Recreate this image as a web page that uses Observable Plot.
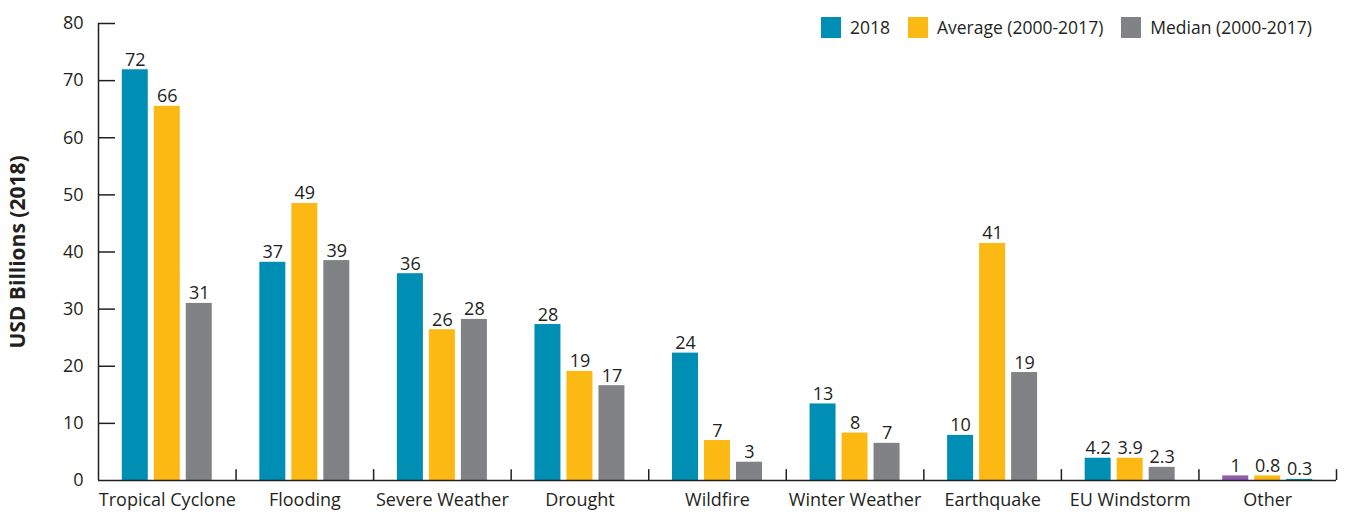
<!DOCTYPE html>
<html><head><meta charset="utf-8">
<script src="https://cdn.jsdelivr.net/npm/d3@7"></script>
<script src="https://cdn.jsdelivr.net/npm/@observablehq/plot@0.6"></script>
<style>
body{margin:0;background:#fff;font-family:"Open Sans",sans-serif;}
#wrap{position:relative;width:1348px;height:514px;}
#legend{position:absolute;top:17px;right:36px;display:flex;align-items:center;font-size:17.5px;color:#231f20;line-height:21px;}
.item{display:flex;align-items:center;margin-left:18px;}
.item:first-child{margin-left:0;}
.sw{width:20px;height:21px;margin-right:9px;}
</style></head><body><div id="wrap"><div id="legend"></div></div>
<script>
const categories = ["Tropical Cyclone","Flooding","Severe Weather","Drought","Wildfire","Winter Weather","Earthquake","EU Windstorm","Other"];
const series = ["2018","Average (2000-2017)","Median (2000-2017)"];
const values2018 = [71.9,38.2,36.2,27.3,22.3,13.4,7.9,3.9,0.8];
const valuesAvg  = [65.5,48.5,26.4,19.1,7.0,8.3,41.5,3.9,0.8];
const valuesMed  = [31.0,38.5,28.2,16.6,3.2,6.5,18.9,2.3,0.2];
const labels2018 = ["72","37","36","28","24","13","10","4.2","1"];
const labelsAvg  = ["66","49","26","19","7","8","41","3.9","0.8"];
const labelsMed  = ["31","39","28","17","3","7","19","2.3","0.3"];
const seriesColors = ["#008fb4","#fdb913","#818285"];
const otherColors  = ["#8e5ca8","#fdb913","#008fb4"];
const yTicks = [0,10,20,30,40,50,60,70,80];

const ink = "#231f20";
const barStep = 0.2326, barHalf = 0.0945, tickLen = 0.1236; // layout, in category units
const seriesValues = [values2018, valuesAvg, valuesMed];
const seriesLabels = [labels2018, labelsAvg, labelsMed];
const rows = [];
categories.forEach((c, ci) => series.forEach((s, si) => {
  const cx = ci + (si - 1) * barStep;
  rows.push({cat: c, series: s, value: seriesValues[si][ci], label: seriesLabels[si][ci],
    x: cx, x1: cx - barHalf, x2: cx + barHalf,
    color: c === "Other" ? otherColors[si] : seriesColors[si]});
}));
const boundaries = d3.range(1, categories.length + 1).map(i => i - 0.5);
const x0 = -0.5;

const chart = Plot.plot({
  width: 1348, height: 514,
  marginLeft: 98, marginRight: 12, marginTop: 23, marginBottom: 34,
  style: {fontFamily: "'Open Sans', sans-serif", color: ink, background: "transparent"},
  x: {type: "linear", domain: [x0, categories.length - 0.5]},
  y: {domain: [0, 80]},
  marks: [
    Plot.rectY(rows, {x1: "x1", x2: "x2", y1: 0, y2: "value", fill: "color"}),
    Plot.text(rows, {x: "x", y: "value", text: "label", lineAnchor: "bottom", dy: -4, fontSize: 18, fill: ink}),
    Plot.ruleX(boundaries, {y1: 0, y2: 1.9, stroke: ink, strokeWidth: 1.5}),
    Plot.ruleY(yTicks.slice(1), {x1: x0, x2: x0 + tickLen, stroke: ink, strokeWidth: 1.5}),
    Plot.ruleY([0], {stroke: ink, strokeWidth: 1.5}),
    Plot.ruleX([x0], {y1: 0, y2: 80, stroke: ink, strokeWidth: 1.5}),
    Plot.axisY({ticks: yTicks, tickSize: 0, tickPadding: 15, fontSize: 18, label: null, fill: ink}),
    Plot.axisX({ticks: d3.range(categories.length), tickSize: 0, tickPadding: 13, tickFormat: i => categories[i], fontSize: 18, label: null, fill: ink}),
    Plot.text(["USD Billions (2018)"], {frameAnchor: "left", textAnchor: "middle", rotate: -90, dx: -80, fontWeight: "bold", fontSize: 21, fill: ink})
  ]
});
document.getElementById("wrap").appendChild(chart);

const legend = document.getElementById("legend");
series.forEach((s, i) => {
  const item = document.createElement("div");
  item.className = "item";
  const sw = document.createElement("div");
  sw.className = "sw";
  sw.style.background = seriesColors[i];
  const t = document.createElement("span");
  t.textContent = s;
  item.appendChild(sw); item.appendChild(t);
  legend.appendChild(item);
});
</script></body></html>
